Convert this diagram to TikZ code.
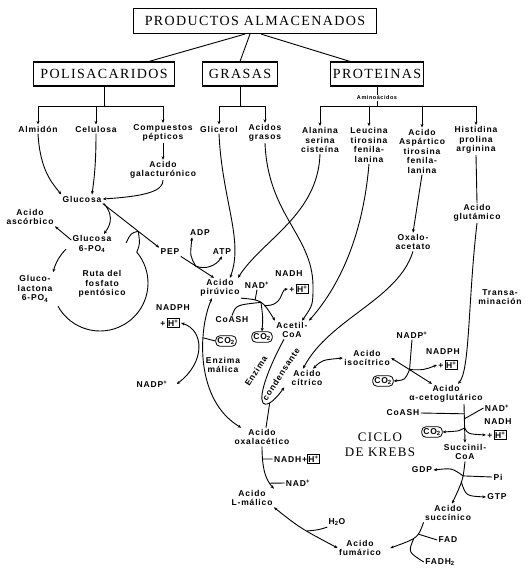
\documentclass[tikz,border=0pt]{standalone}
\usepackage{fontspec}
\usetikzlibrary{arrows.meta}
\newfontfamily\lblfam[LetterSpace=10]{Liberation Sans}
\newfontfamily\hdfam[LetterSpace=10]{Liberation Serif}
\newcommand\lblf{\lblfam\bfseries\fontsize{8.5}{9.5}\selectfont}
\newcommand\aminf{\lblfam\bfseries\fontsize{5.5}{6.5}\selectfont}
\newcommand\hbx{\fbox{H\textsuperscript{+}}}
\setlength\fboxsep{0.8pt}
\setlength\fboxrule{0.6pt}
\tikzset{
    % Components
    hdbox/.style = {draw, line width=1.1pt, font=\hdfam\fontsize{14}{16}\selectfont, minimum height=24, inner sep=2pt},
    krebs/.style = {font=\hdfam\fontsize{13}{15}\selectfont, align=center, inner sep=0pt},
    lbl/.style   = {font=\lblf, align=center, inner sep=1pt},
    cobox/.style = {lbl, draw, line width=0.8pt, rounded corners=4pt, inner sep=1.5pt},
    % Edges
    arr/.style  = {-{Stealth[length=3.5pt,width=3pt]}},
    arrb/.style = {{Stealth[length=3.5pt,width=3pt]}-{Stealth[length=3.5pt,width=3pt]}}
}
\begin{document}
\begin{tikzpicture}[x=1pt, y=-1pt, line width=0.9pt]
    \fill[white] (0,0) rectangle (530,570);

    % stored products
    \node (tit)  [hdbox, minimum width=243, minimum height=25] at (255,21) {PRODUCTOS ALMACENADOS};
    \node (poli) [hdbox, minimum width=141] at (104,74) {POLISACARIDOS};
    \node (gras) [hdbox, minimum width=75] at (240,74) {GRASAS};
    \node (prot) [hdbox, minimum width=88] at (377,74) {PROTEINAS};

    \draw ([xshift=-10]tit.south) -- ([xshift=45]poli.north);
    \draw ([xshift=-5]tit.south) -- (gras.north);
    \draw ([xshift=6]tit.south) -- ([xshift=-27]prot.north);

    \node (almi) [lbl] at (38,129) {Almidón};
    \node (celu) [lbl] at (96,129) {Celulosa};
    \node (pept) [lbl] at (163,133) {Compuestos\\pépticos};
    \node (glic) [lbl] at (219,129) {Glicerol};
    \node (acgr) [lbl] at (265,133) {Acidos\\grasos};
    \node (amin) [lbl, font=\aminf, inner sep=0.5pt] at (377,98) {Aminoácidos};
    \node (alan) [lbl] at (320,140) {Alanina\\serina\\cisteína};
    \node (leuc) [lbl] at (369,145) {Leucina\\tirosina\\fenila-\\lanina};
    \node (aspa) [lbl] at (422,151) {Acido\\Aspártico\\tirosina\\fenila-\\lanina};
    \node (hist) [lbl] at (476,140) {Histidina\\prolina\\arginina};

    \draw (poli.south) -- ++(0,20) coordinate (pb);
    \draw[arr] (pb) -| (almi.north);
    \draw[arr] (pb) -| (celu.north);
    \draw[arr] (pb) -| (pept.north);
    \draw (gras.south) -- ++(0,20) coordinate (gb);
    \draw[arr] (gb) -| (glic.north);
    \draw[arr] (gb) -| (acgr.north);
    \draw (prot.south) -- (amin.north);
    \draw (amin.south) -- ++(0,5) coordinate (ab);
    \draw[arr] (ab) -| (alan.north);
    \draw[arr] (ab) -| (leuc.north);
    \draw[arr] (ab) -| (aspa.north);
    \draw[arr] (ab) -| (hist.north);

    % carbohydrates and pentose phosphate pathway
    \node (galac) [lbl] at (163,170) {Acido\\galacturónico};
    \node (gluc)  [lbl] at (82,199) {Glucosa};
    \node (ascor) [lbl] at (30,217) {Acido\\ascórbico};
    \node (gsix)  [lbl] at (92,244) {Glucosa\\6-PO\textsubscript{4}};
    \node (lact)  [lbl] at (35,289) {Gluco-\\lactona\\6-PO\textsubscript{4}};
    \node (ruta)  [lbl] at (102,284) {Ruta del\\fosfato\\pentósico};
    \coordinate (pc) at (100,283);
    \coordinate (hk) at (126,243);

    \draw[arr] (almi.south) .. controls (40,170) and (52,183) .. (gluc.north west);
    \draw[arr] (celu.south) .. controls (96,165) and (94,180) .. ([xshift=10]gluc.north);
    \draw[arr] (pept.south) -- (galac.north);
    \draw[arr] (galac.south) .. controls (163,190) and (150,196) .. (gluc.east);
    \draw[arr] ([xshift=22]gluc.south) .. controls (116,218) and (108,228) .. ([xshift=12]gsix.north);
    \draw[arr] ([yshift=4]gsix.west) -- (ascor.south east);

    \node (pep) [lbl] at (170,252) {PEP};
    \node (adp) [lbl] at (200,233) {ADP};
    \node (atp) [lbl] at (222,252) {ATP};
    \node (piru) [lbl] at (220,288) {Acido\\pirúvico};

    \draw[arr] (gluc.south east) -- (pep.north west) coordinate[pos=0.63] (jc);
    \draw[arr] ([shift={(-135:48)}]pc) arc[start angle=-135, end angle=-167, radius=48];
    \draw ([shift={(-209:48)}]pc) arc[start angle=-209, end angle=-400, radius=48] .. controls (140,244) .. (jc);
    \draw (jc) .. controls (131,233) .. (hk);

    \draw[arr] (pep.south east) -- ([xshift=-6]piru.north) coordinate[pos=0.45] (ja);
    \draw[arrb] ([xshift=-8]adp.south) .. controls (190,256) .. (ja) .. controls (205,270) and (216,266) .. (atp.south);
    \draw[arr] (glic.south) .. controls (222,200) and (244,240) .. ([xshift=10]piru.north);
    \draw[arr] (alan.south) .. controls (318,215) and (262,240) .. ([xshift=18]piru.north);

    % pyruvate to acetyl-CoA
    \node (nadi)   [lbl] at (257,285) {NAD\textsuperscript{+}};
    \node (nadhi)  [lbl] at (289,274) {NADH};
    \node (hpi)    [lbl] at (299,289) {+\,\hbx};
    \node (coai)   [lbl] at (232,320) {CoASH};
    \node (cotwoa) [cobox] at (262,337) {CO\textsubscript{2}};
    \node (cotwob) [cobox] at (226,341) {CO\textsubscript{2}};
    \node (acet)   [lbl] at (292,330) {Acetil-\\CoA};

    \draw[arr] (acgr.south) .. controls (268,215) and (312,235) .. (313,285) .. controls (313,305) .. ([xshift=10]acet.north);
    \draw[arr] (leuc.south) .. controls (364,225) and (345,280) .. (acet.north east);
    \draw[arr] (piru.south east) .. controls (262,300) .. (acet.north west)
        coordinate[pos=0.3] (jpa) coordinate[pos=0.5] (jpb) coordinate[pos=0.65] (jpc);
    \draw (nadi.south) -- (jpa);
    \draw (coai.north) .. controls (236,305) .. (jpb);
    \draw[arr] (jpc) .. controls (284,306) and (280,290) .. (hpi.west);
    \draw[arr] (jpb) .. controls (263,318) .. (cotwoa.north);

    % malic enzyme
    \node (nadphi) [lbl] at (173,308) {NADPH};
    \node (hpii)   [lbl] at (170,323) {+\,\hbx};
    \node (nadpi)  [lbl] at (152,384) {NADP\textsuperscript{+}};
    \node (malic)  [lbl] at (223,365) {Enzima\\málica};
    \node (oxa)    [lbl] at (262,437) {Acido\\oxalacético};

    \draw[arrb] ([xshift=-8]piru.south) .. controls (198,330) and (195,400) .. ([xshift=8]oxa.north west)
        coordinate[pos=0.32] (jma);
    \draw (jma) -- (cotwob.west);
    \draw[arrb] (hpii.east) .. controls (204,330) and (206,362) .. ([xshift=8]nadpi.east);

    % citrate formation
    \node (enz)  [lbl, rotate=57] at (256,371) {Enzima};
    \node (cond) [lbl, rotate=57] at (281,374) {condensante};
    \node (citr) [lbl] at (307,378) {Acido\\cítrico};
    \node (oxai) [lbl] at (413,242) {Oxalo-\\acetato};

    \draw[arr] ([xshift=-8]acet.south) .. controls (270,365) and (258,395) .. (263,403)
        .. controls (268,408) and (278,396) .. ([xshift=-6]citr.south west) coordinate[pos=0.35] (jl);
    \draw ([xshift=4]oxa.north) -- (jl);
    \draw[arr] (aspa.south) -- (oxai.north);
    \draw[arr] (oxai.south) .. controls (398,300) and (330,318) .. ([xshift=-4]citr.north);

    % Krebs cycle
    \node (isoc)    [lbl] at (367,358) {Acido\\isocítrico};
    \node (nadpii)  [lbl] at (412,335) {NADP\textsuperscript{+}};
    \node (nadphii) [lbl] at (443,352) {NADPH};
    \node (hpiii)   [lbl] at (448,365) {+\,\hbx};
    \node (cotwoc)  [cobox] at (383,381) {CO\textsubscript{2}};
    \node (akg)     [lbl] at (446,394) {Acido\\α-cetoglutárico};
    \node (glut)    [lbl] at (477,213) {Acido\\glutámico};
    \node (tran)    [lbl] at (500,297) {Transa-\\minación};

    \draw[arrb] ([xshift=6]citr.north) .. controls (322,360) .. (isoc.west);
    \draw[arrb] (isoc.east) -- ([xshift=-14]akg.north) coordinate[pos=0.45] (jia);
    \draw (nadpii.south) -- (jia);
    \draw[arr] (jia) .. controls (424,370) .. (hpiii.west);
    \draw[arr] (jia) .. controls (405,380) .. (cotwoc.east);
    \draw (hist.south) -- (glut.north);
    \draw[arr] (glut.south) .. controls (468,300) and (470,370) .. ([xshift=12]akg.north);

    \node (coaii)  [lbl] at (403,413) {CoASH};
    \node (nadii)  [lbl] at (497,408) {NAD\textsuperscript{+}};
    \node (nadhii) [lbl] at (498,422) {NADH};
    \node (hpiv)   [lbl] at (497,435) {+\,\hbx};
    \node (cotwod) [cobox] at (432,432) {CO\textsubscript{2}};
    \node (ciclo)  [krebs] at (380,444.5) {CICLO\\DE KREBS};
    \node (succoa) [lbl] at (465,452) {Succinil-\\CoA};

    \draw[arr] ([xshift=18]akg.south) -- (succoa.north)
        coordinate[pos=0.25] (jka) coordinate[pos=0.38] (jkb) coordinate[pos=0.62] (jkc);
    \draw (coaii.east) -- (jka);
    \draw (nadii.west) -- (jkb);
    \draw[arr] (jkc) .. controls (468,434) .. (hpiv.west);
    \draw[arr] (jkc) .. controls (460,431) .. (cotwod.east);

    \node (gdp)  [lbl] at (422,470) {GDP};
    \node (pii)  [lbl] at (498,477) {Pi};
    \node (gtp)  [lbl] at (497,497) {GTP};
    \node (succ) [lbl] at (448,513) {Acido\\succínico};

    \draw[arr] (succoa.south) .. controls (463,480) .. ([xshift=4]succ.north)
        coordinate[pos=0.35] (jsa) coordinate[pos=0.55] (jsb);
    \draw[arr] (jsa) .. controls (452,468) .. (gdp.east);
    \draw (pii.west) -- (jsa);
    \draw[arr] (jsb) .. controls (466,496) .. (gtp.west);

    \node (fad)  [lbl] at (448,540) {FAD};
    \node (fadh) [lbl] at (440,562) {FADH\textsubscript{2}};
    \node (fum)  [lbl] at (360,548) {Acido\\fumárico};

    \draw[arr] (succ.south west) .. controls (418,538) .. ([xshift=8]fum.east)
        coordinate[pos=0.35] (jfa) coordinate[pos=0.55] (jfb);
    \draw (fad.west) -- (jfa);
    \draw (jfb) .. controls (408,552) .. (fadh.west);

    \node (mall)    [lbl] at (252,498) {Acido\\L-málico};
    \node (water)   [lbl] at (337,522) {H\textsubscript{2}O};
    \node (nadhiii) [lbl] at (297,459) {NADH+\hbx};
    \node (nadiii)  [lbl] at (298,483) {NAD\textsuperscript{+}};

    \draw[arr] (oxa.south) .. controls (262,470) and (266,480) .. (mall.north east)
        coordinate[pos=0.2] (joa) coordinate[pos=0.8] (job);
    \draw (joa) -- (nadhiii.west);
    \draw (job) -- (nadiii.west);
    \draw[arrb] (mall.south east) .. controls (300,528) .. (fum.west) coordinate[pos=0.6] (jw);
    \draw (water.south west) .. controls (318,530) .. (jw);
\end{tikzpicture}
\end{document}
